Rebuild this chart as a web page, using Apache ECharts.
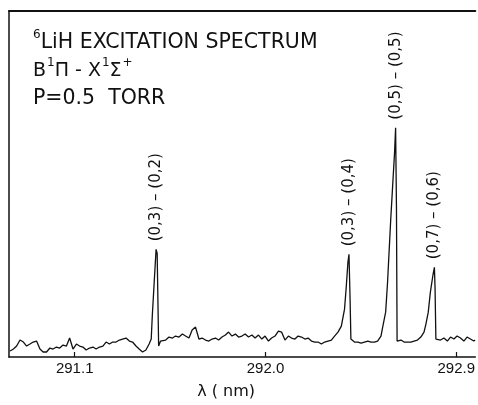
<!DOCTYPE html>
<html>
<head>
<meta charset="utf-8">
<script src="https://cdn.jsdelivr.net/npm/echarts@6/dist/echarts.min.js"></script>
<style>
  html, body { margin: 0; padding: 0; background: #fff; }
  #main { width: 478px; height: 405px; }
</style>
</head>
<body>
<div id="main"></div>
<script>
// wavelength (nm) and intensity (arb. units)
var wavelength = [
  290.795, 290.811, 290.826, 290.842, 290.858, 290.873, 290.889, 290.904, 290.920, 290.936,
  290.951, 290.967, 290.983, 290.998, 291.014, 291.029, 291.045, 291.061, 291.076, 291.092,
  291.108, 291.123, 291.139, 291.154, 291.170, 291.186, 291.201, 291.217, 291.233, 291.248,
  291.264, 291.279, 291.295, 291.311, 291.326, 291.342, 291.358, 291.373, 291.389, 291.404,
  291.420, 291.436, 291.451, 291.461, 291.466, 291.475, 291.484, 291.489, 291.496, 291.505,
  291.514, 291.529, 291.545, 291.561, 291.576, 291.592, 291.608, 291.623, 291.639, 291.654,
  291.670, 291.686, 291.701, 291.717, 291.733, 291.748, 291.764, 291.779, 291.795, 291.811,
  291.826, 291.842, 291.858, 291.873, 291.889, 291.904, 291.920, 291.936, 291.951, 291.967,
  291.983, 291.998, 292.014, 292.029, 292.045, 292.061, 292.076, 292.092, 292.108, 292.123,
  292.139, 292.154, 292.170, 292.186, 292.201, 292.217, 292.233, 292.248, 292.264, 292.279,
  292.295, 292.311, 292.326, 292.342, 292.358, 292.373, 292.381, 292.389, 292.394, 292.399,
  292.403, 292.420, 292.436, 292.451, 292.467, 292.483, 292.498, 292.514, 292.529, 292.545,
  292.553, 292.561, 292.567, 292.576, 292.591, 292.609, 292.614, 292.618, 292.621, 292.639,
  292.654, 292.670, 292.686, 292.701, 292.717, 292.733, 292.748, 292.757, 292.768, 292.778,
  292.790, 292.797, 292.800, 292.804, 292.811, 292.826, 292.842, 292.858, 292.873, 292.889,
  292.904, 292.920, 292.936, 292.951, 292.967, 292.983, 292.989
]
var intensity = [
  6, 8, 11, 17, 15, 11, 13, 15, 16, 8,
  5, 5, 9, 8, 10, 9, 12, 11, 19, 8,
  13, 11, 10, 7, 9, 10, 8, 10, 11, 15,
  13, 15, 15, 17, 18, 19, 16, 15, 11, 8,
  5, 7, 13, 18, 41, 75, 108, 104, 11, 16,
  18, 17, 20, 19, 21, 20, 23, 21, 19, 27,
  30, 18, 19, 17, 16, 18, 19, 17, 20, 22,
  25, 21, 23, 20, 21, 23, 20, 22, 19, 22,
  18, 21, 16, 19, 21, 26, 25, 17, 21, 19,
  18, 21, 20, 18, 19, 16, 15, 15, 13, 15,
  16, 17, 21, 25, 31, 48, 70, 95, 103, 60,
  18, 15, 15, 14, 15, 16, 15, 15, 16, 21,
  30, 31, 45, 75, 138, 205, 230, 150, 16, 17,
  15, 15, 15, 16, 17, 20, 25, 33, 45, 65,
  82, 90, 70, 18, 20, 17, 19, 16, 20, 18,
  21, 19, 16, 20, 18, 16, 17
]

// band assignments and where they sit
var peakLabels = ['(0,3) – (0,2)', '(0,3) – (0,4)', '(0,5) – (0,5)', '(0,7) – (0,6)']
var peakWavelength = [291.484, 292.394, 292.614, 292.797]
var peakIntensity = [108, 103, 230, 90]

var tickValues = [291.1, 292.0, 292.9]

var seriesData = wavelength.map(function (w, i) { return [w, intensity[i]] })
var markData = peakLabels.map(function (name, i) {
  return { name: name, coord: [peakWavelength[i], peakIntensity[i]] }
})

var chart = echarts.init(document.getElementById('main'), null, { renderer: 'canvas' })
chart.setOption({
  backgroundColor: '#fff',
  animation: false,
  title: {
    left: 28,
    top: 24,
    text: '{s6|6}{t|LiH EXCITATION SPECTRUM}\n{m|B}{sup|1}{m|Π - X}{sup|1}{m|Σ}{sup|+}\n{t|P=0.5  TORR}',
    textStyle: {
      fontWeight: 'normal',
      rich: {
        t: { fontFamily: 'DejaVu Sans', fontWeight: 'normal', fontSize: 20.5, color: '#111', lineHeight: 28 },
        m: { fontFamily: 'DejaVu Sans', fontWeight: 'normal', fontSize: 19, color: '#111', lineHeight: 28 },
        s6: { fontFamily: 'DejaVu Sans', fontWeight: 'normal', fontSize: 12, color: '#111', lineHeight: 14, verticalAlign: 'top' },
        sup: { fontFamily: 'DejaVu Sans', fontWeight: 'normal', fontSize: 12, color: '#111', lineHeight: 14, verticalAlign: 'top', padding: [0, 0, 0, 1] }
      }
    }
  },
  grid: { left: 9, right: 0, top: 11, bottom: 47 },
  xAxis: [{
    type: 'value',
    min: 290.79,
    max: 292.99,
    position: 'bottom',
    name: 'λ ( nm)',
    nameLocation: 'middle',
    nameGap: 27,
    nameTextStyle: { fontFamily: 'DejaVu Sans', fontSize: 16, color: '#111', padding: [0, 32, 0, 0] },
    axisLine: { show: true, lineStyle: { color: '#111', width: 1.5 } },
    axisTick: { show: true, inside: true, length: 5, customValues: tickValues, lineStyle: { color: '#111', width: 1.2 } },
    axisLabel: {
      show: true, customValues: tickValues, margin: 4,
      fontFamily: 'Liberation Sans', fontSize: 15, color: '#111',
      formatter: function (v) { return v.toFixed(1) }
    },
    splitLine: { show: false }
  }, {
    type: 'value',
    min: 290.79,
    max: 292.99,
    position: 'top',
    axisLine: { show: true, lineStyle: { color: '#111', width: 2 } },
    axisTick: { show: false },
    axisLabel: { show: false },
    splitLine: { show: false }
  }],
  yAxis: {
    type: 'value',
    min: 0,
    max: 347,
    axisLine: { show: true, lineStyle: { color: '#111', width: 1.5 } },
    axisTick: { show: false },
    axisLabel: { show: false },
    splitLine: { show: false }
  },
  series: [{
    type: 'line',
    data: seriesData,
    symbol: 'none',
    lineStyle: { color: '#111', width: 1.3 },
    markPoint: {
      symbol: 'circle',
      symbolSize: 0,
      label: {
        show: true,
        formatter: '{b}',
        position: 'top',
        distance: 8,
        rotate: 90,
        align: 'left',
        verticalAlign: 'middle',
        fontFamily: 'DejaVu Sans',
        fontSize: 15,
        color: '#111'
      },
      data: markData
    }
  }]
})
</script>
</body>
</html>
